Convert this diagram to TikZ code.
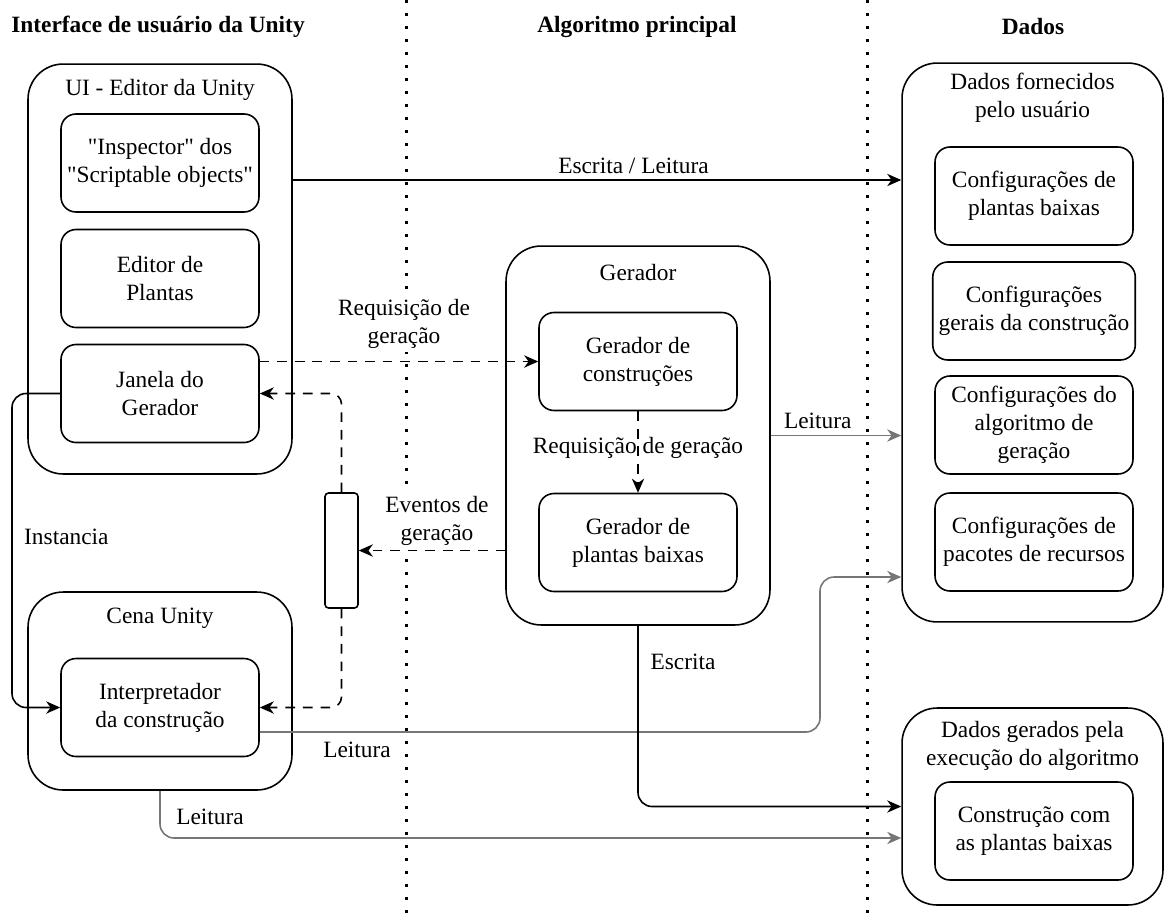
\documentclass[tikz,border=0pt]{standalone}
\usepackage{fontspec}
\defaultfontfeatures[\rmfamily]{}
\setmainfont{Liberation Serif}
\usetikzlibrary{arrows.meta,positioning}
\definecolor{readgray}{RGB}{118,118,118}

\begin{document}
\begin{tikzpicture}[
    x=0.02cm, y=-0.02cm,
    font=\fontsize{13.3}{16}\selectfont,
    group/.style={rectangle, draw, line width=0.9pt, rounded corners=20pt, minimum width=5.28cm},
    box/.style={rectangle, draw, line width=0.9pt, rounded corners=8.5pt, minimum width=3.96cm, minimum height=1.96cm, align=center},
    header/.style={font=\fontsize{13.3}{16}\selectfont\bfseries},
    lane/.style={line width=1.7pt, dash pattern=on 1.7pt off 5.7pt},
    arrow/.style={-{Stealth[length=8pt, width=7pt, inset=2.5pt]}, line width=0.9pt},
    dasharrow/.style={arrow, dash pattern=on 5.5pt off 4.5pt},
    readarrow/.style={arrow, draw=readgray},
    lbl/.style={fill=white, align=center, inner sep=2pt}
]
    \useasboundingbox (0,0) rectangle (1165,920);

    \draw[lane] (406,0) -- (406,920);
    \draw[lane] (867,0) -- (867,920);

    \node[header] (hui) at (158,27) {Interface de usuário da Unity};
    \node[header] (halg) at (637,27) {Algoritmo principal};
    \node[header] (hdata) at (1033,27) {Dados};

    \node[group, minimum height=8.2cm] (ui) at (160,269) {};
    \node (uititle) at (160,90) {UI - Editor da Unity};
    \node[box] (insp) at (160,163) {"Inspector" dos\\"Scriptable objects"};
    \node[box] (plan) at (160,278.5) {Editor de\\Plantas};
    \node[box] (janela) at (160,393.5) {Janela do\\Gerador};

    \node[group, minimum height=3.96cm] (cena) at (160,691) {};
    \node (cenatitle) at (160,618) {Cena Unity};
    \node[box] (interp) at (160,707.5) {Interpretador\\da construção};

    \node[rectangle, draw, line width=0.9pt, rounded corners=2pt, minimum width=0.66cm, minimum height=2.3cm] (relay) at (341.5,550.5) {};

    \node[group, minimum height=7.58cm] (gerador) at (638,435.5) {};
    \node (gertitle) at (638,272) {Gerador};
    \node[box] (constr) at (638,361.5) {Gerador de\\construções};
    \node[box] (plantas) at (638,542.5) {Gerador de\\plantas baixas};

    \node[group, minimum width=5.22cm, minimum height=11.18cm] (fornec) at (1032.5,342.5) {};
    \node[align=center] (fortitle) at (1032.5,98) {Dados fornecidos\\pelo usuário};
    \node[box] (cfgplan) at (1034,196) {Configurações de\\plantas baixas};
    \node[box] (cfggeral) at (1034,311) {Configurações\\gerais da construção};
    \node[box] (cfgalg) at (1034,425) {Configurações do\\algoritmo de\\geração};
    \node[box] (cfgpac) at (1034,542) {Configurações de\\pacotes de recursos};

    \node[group, minimum width=5.22cm, minimum height=3.94cm] (gerados) at (1032.5,806.5) {};
    \node[align=center] (gerdtitle) at (1032.5,746) {Dados gerados pela\\execução do algoritmo};
    \node[box] (constrfinal) at (1034,831) {Construção com\\as plantas baixas};

    \draw[arrow] (ui.east |- 0,180) -- node[above, pos=0.56] {Escrita / Leitura} (fornec.west |- 0,180);

    \draw[dasharrow] (janela.east |- constr.west) -- (constr.west);
    \node[lbl] (reqlbl) at (404,324) {Requisição de\\geração};

    \draw[dasharrow] (gerador.west |- relay.east) -- (relay.east);
    \node[lbl] (evtlbl) at (437,521) {Eventos de\\geração};
    \draw[dasharrow, rounded corners=6pt] (relay.north) |- (janela.east);
    \draw[dasharrow, rounded corners=6pt] (relay.south) |- (interp.east);

    \draw[dasharrow] (constr.south) -- node[pos=0.45] {Requisição de geração} (plantas.north);

    \draw[arrow, rounded corners=8pt] (janela.west) -- (12,393.5) |- (interp.west);
    \node[anchor=west] (instlbl) at (18,537) {Instancia};

    \draw[readarrow] (gerador.east) -- node[above, pos=0.36] {Leitura} (fornec.west |- gerador.east);
    \draw[readarrow, rounded corners=8pt] (interp.east |- 0,732) -| (820,577) -- (fornec.west |- 0,577);
    \node (leit2) at (357,750) {Leitura};
    \draw[readarrow, rounded corners=8pt] (cena.south) |- (gerados.west |- 0,838);
    \node (leit3) at (210,817) {Leitura};

    \draw[arrow, rounded corners=8pt] (gerador.south) |- (gerados.west);
    \node (escr) at (683,662) {Escrita};
\end{tikzpicture}
\end{document}
